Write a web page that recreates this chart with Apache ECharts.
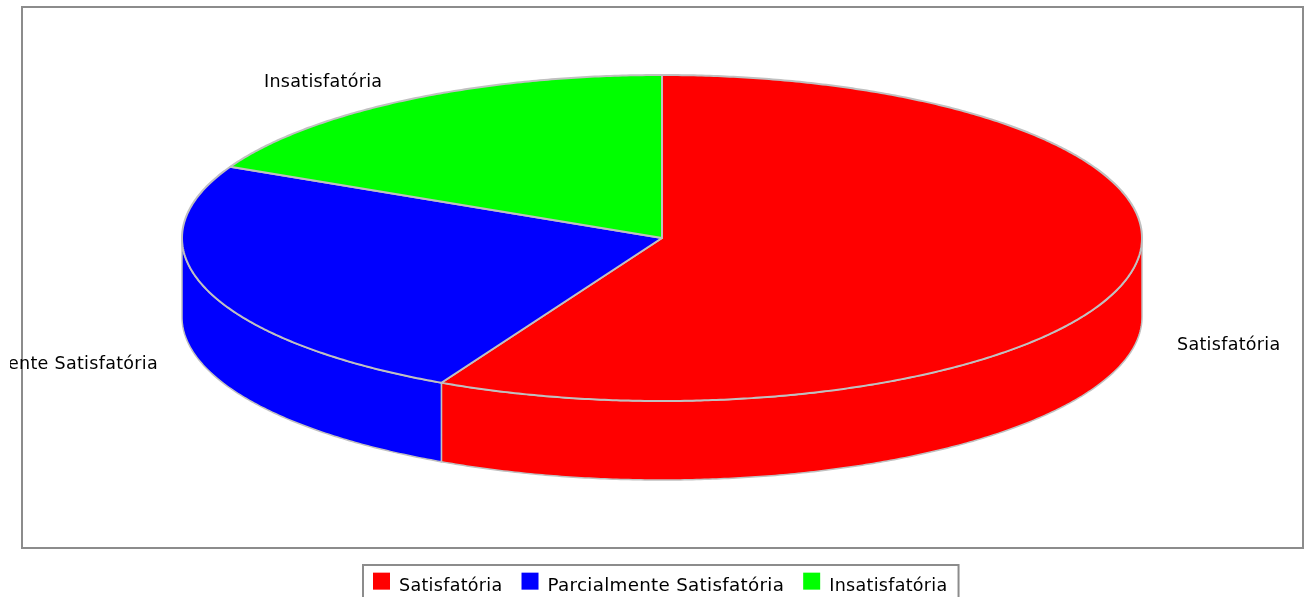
<!DOCTYPE html>
<html>
<head>
    <meta charset="utf-8">
    <title>ECharts</title>
    <script type="text/javascript" src="https://cdn.jsdelivr.net/npm/echarts@6/dist/echarts.min.js"></script>
    <style>
        html, body { margin: 0; padding: 0; background: #fff; overflow: hidden; }
        /* the reference is a soft, upscaled image */
        #main { filter: blur(0.5px); }
    </style>
</head>
<body>
<div id="main" style="width: 1310px;height:597px;"></div>

<script type="text/javascript">
    var categories = ['Satisfatória', 'Parcialmente Satisfatória', 'Insatisfatória'];
    var values = [57.6, 24.6, 17.8];
    var colors = ['#ff0000', '#0000ff', '#00ff00'];

    // zrender has no letter spacing option, set it on every canvas context
    var getContext = HTMLCanvasElement.prototype.getContext;
    HTMLCanvasElement.prototype.getContext = function () {
        var ctx = getContext.apply(this, arguments);
        if (ctx && 'letterSpacing' in ctx) ctx.letterSpacing = '0.3px';
        return ctx;
    };

    var chart = echarts.init(document.getElementById('main'));

    // pie geometry
    var cx = 662, cy = 238, rx = 480, ry = 163, depth = 79;
    var edge = '#c0c0c0';
    var labelPos = [
        { x: 1177, y: 345, align: 'left' },
        { x: 158, y: 364, align: 'right' },
        { x: 264, y: 82, align: 'left' }
    ];

    var total = values.reduce(function (a, b) { return a + b; }, 0);

    function point(t, dy) {
        return [cx + rx * Math.sin(t), cy - ry * Math.cos(t) + (dy || 0)];
    }

    function arc(from, to, dy) {
        var pts = [];
        var n = Math.max(2, Math.ceil((to - from) * 120));
        for (var i = 0; i <= n; i++) {
            pts.push(point(from + (to - from) * i / n, dy));
        }
        return pts;
    }

    function renderSlice(index) {
        return function (params, api) {
            var before = 0;
            for (var i = 0; i < index; i++) before += values[i];
            var start = before / total * Math.PI * 2;
            var end = (before + api.value(0)) / total * Math.PI * 2;
            var children = [];

            // side wall, only the front half of the pie shows it
            var from = Math.max(start, Math.PI / 2);
            var to = Math.min(end, Math.PI * 1.5);
            if (from < to) {
                var wall = arc(from, to, 0).concat(arc(from, to, depth).reverse());
                children.push({
                    type: 'polygon',
                    shape: { points: wall },
                    style: { fill: colors[index], stroke: edge, lineWidth: 1.5 }
                });
            }

            // top face
            children.push({
                type: 'polygon',
                z2: 5,
                shape: { points: [[cx, cy]].concat(arc(start, end, 0)) },
                style: { fill: colors[index], stroke: edge, lineWidth: 2, lineJoin: 'round' }
            });

            var pos = labelPos[index];
            children.push({
                type: 'text',
                z2: 10,
                // left label runs off the image edge of the plot
                clipPath: { type: 'rect', shape: { x: 10, y: 0, width: 1300, height: 597 } },
                style: {
                    x: pos.x,
                    y: pos.y,
                    text: categories[index],
                    font: '17.5px "DejaVu Sans"',
                    fill: '#000',
                    align: pos.align,
                    verticalAlign: 'middle'
                }
            });
            return { type: 'group', children: children };
        };
    }

    var option = {
        animation: false,
        backgroundColor: '#fff',
        graphic: [{
            type: 'rect',
            silent: true,
            z: -1,
            shape: { x: 22, y: 7, width: 1281, height: 541 },
            style: { fill: '#fff', stroke: '#8c8c8c', lineWidth: 2 }
        }],
        legend: {
            left: 363,
            top: 565,
            padding: [2, 11, 8, 10],
            itemGap: 19,
            itemWidth: 17,
            itemHeight: 17,
            selectedMode: false,
            borderColor: '#8c8c8c',
            borderWidth: 2,
            backgroundColor: '#fff',
            icon: 'rect',
            // blank first line pushes the text below the swatch centre
            formatter: function (name) { return '\n' + name; },
            textStyle: { color: '#000', fontFamily: 'DejaVu Sans', fontSize: 17.5, lineHeight: 10, padding: [0, 0, 0, 4] },
            data: categories.map(function (name, i) {
                return i === 1 ? { name: name, textStyle: { fontSize: 18.3, lineHeight: 10 } } : { name: name };
            })
        },
        series: categories.map(function (name, i) {
            return {
                name: name,
                type: 'custom',
                coordinateSystem: 'none',
                clip: false,
                itemStyle: { color: colors[i] },
                renderItem: renderSlice(i),
                data: [[values[i]]]
            };
        })
    };

    chart.setOption(option);
</script>
</body>
</html>
